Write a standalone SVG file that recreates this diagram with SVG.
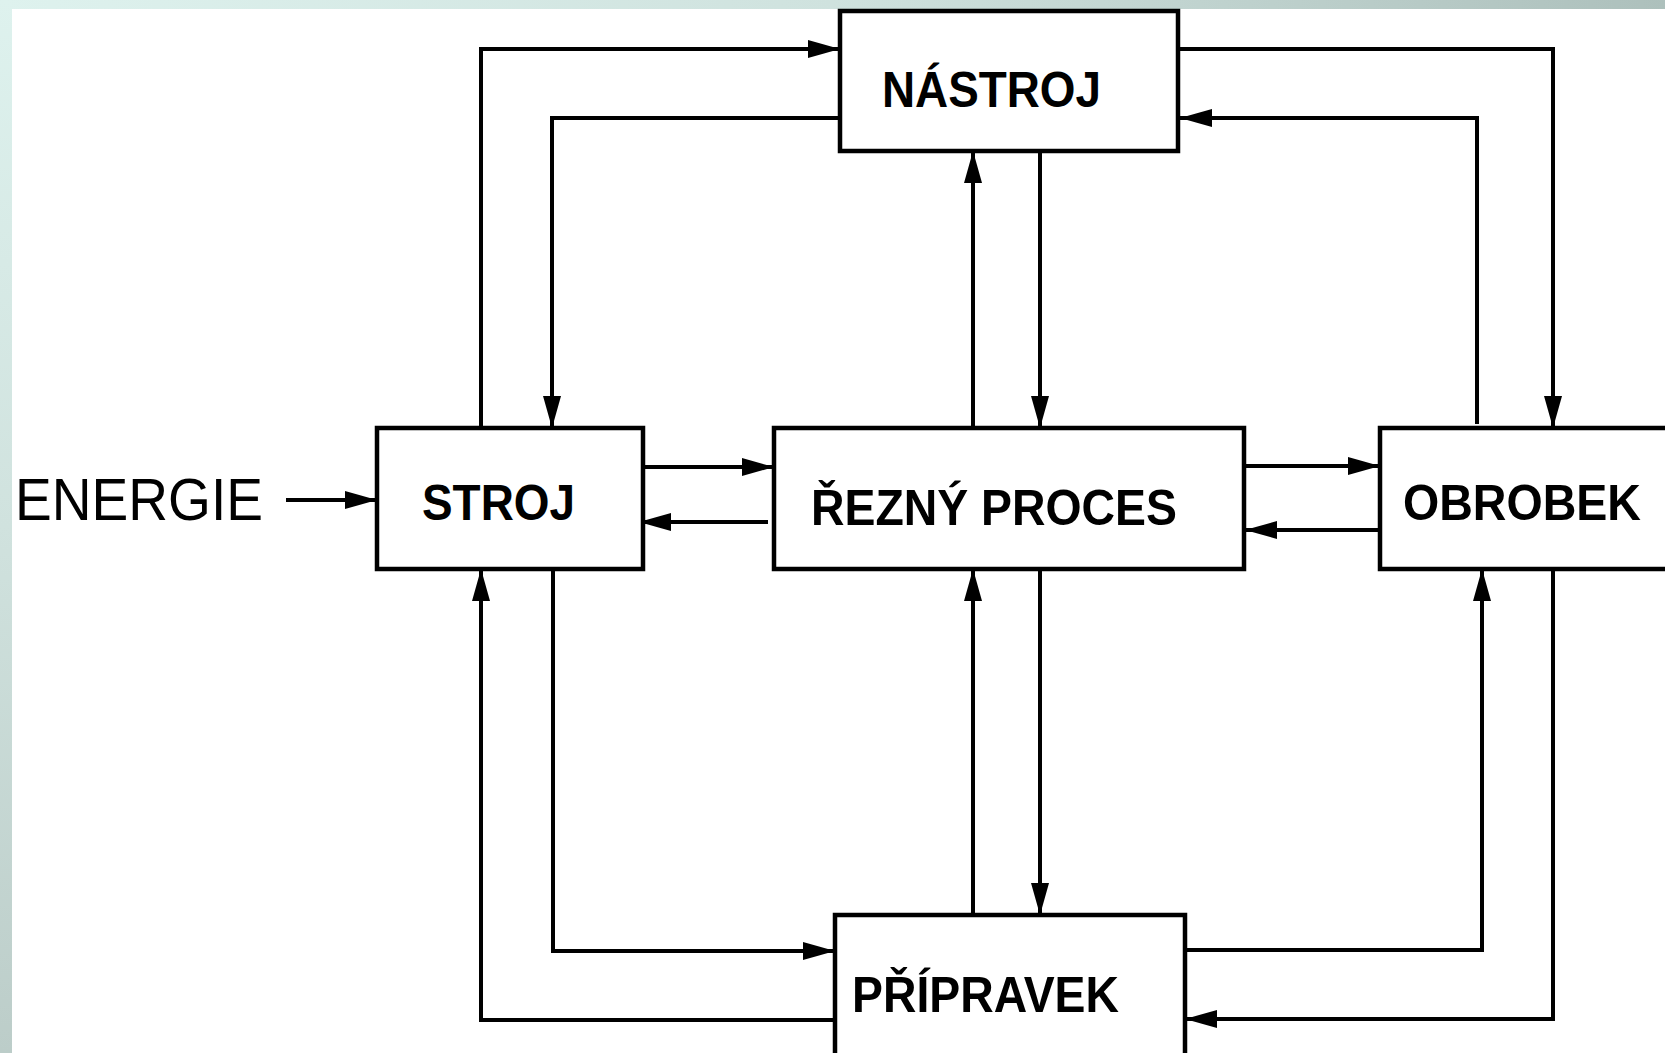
<svg xmlns="http://www.w3.org/2000/svg" width="1665" height="1053" viewBox="0 0 1665 1053">
  <defs>
    <linearGradient id="topg" x1="0" y1="0" x2="1" y2="0">
      <stop offset="0" stop-color="#def2ee"/>
      <stop offset="0.5" stop-color="#cfe2de"/>
      <stop offset="1" stop-color="#adc0bc"/>
    </linearGradient>
    <linearGradient id="leftg" x1="0" y1="0" x2="0" y2="1">
      <stop offset="0" stop-color="#def2ee"/>
      <stop offset="0.5" stop-color="#d0e2de"/>
      <stop offset="1" stop-color="#bccdc9"/>
    </linearGradient>
    <marker id="arr" viewBox="0 0 32 18" refX="32" refY="9" markerWidth="32" markerHeight="18" markerUnits="userSpaceOnUse" orient="auto">
      <path d="M0,0 L32,9 L0,18 z" fill="#000"/>
    </marker>
  </defs>
  <style>
    .box { fill: #fff; stroke: #000; stroke-width: 4.5; }
    .lbl { font-family: "Liberation Sans", Arial, sans-serif; font-weight: bold; font-size: 50px; fill: #000; }
    .conn path { fill: none; stroke: #000; stroke-width: 4; marker-end: url(#arr); }
  </style>
  <rect x="0" y="0" width="1665" height="1053" fill="#fff"/>
  <rect x="0" y="0" width="1665" height="9" fill="url(#topg)"/>
  <rect x="0" y="0" width="12" height="1053" fill="url(#leftg)"/>

  <g id="connectors" class="conn">
    <path d="M481,428 V49 H840"/>
    <path d="M840,118 H552 V428"/>
    <path d="M1178,49 H1553 V428"/>
    <path d="M1477,424 V118 H1180"/>
    <path d="M973,428 V151"/>
    <path d="M1040,151 V428"/>
    <path d="M286,500 H377"/>
    <path d="M643,467 H774"/>
    <path d="M768,522 H639"/>
    <path d="M1245,466 H1380"/>
    <path d="M1380,530 H1245"/>
    <path d="M837,1020 H481 V569"/>
    <path d="M553,569 V951 H835"/>
    <path d="M973,920 V569"/>
    <path d="M1040,569 V915"/>
    <path d="M1185,950 H1482 V569"/>
    <path d="M1553,569 V1019 H1185"/>
  </g>

  <g id="energie">
    <text x="15" y="520" font-family="Liberation Sans, Arial, sans-serif" font-size="60" textLength="248" lengthAdjust="spacingAndGlyphs">ENERGIE</text>
  </g>
  <g id="nastroj">
    <rect class="box" x="840" y="11" width="338" height="140"/>
    <text class="lbl" x="882" y="107" textLength="219" lengthAdjust="spacingAndGlyphs">NÁSTROJ</text>
  </g>
  <g id="stroj">
    <rect class="box" x="377" y="428" width="266" height="141"/>
    <text class="lbl" x="422" y="520" textLength="153" lengthAdjust="spacingAndGlyphs">STROJ</text>
  </g>
  <g id="rezny-proces">
    <rect class="box" x="774" y="428" width="470" height="141"/>
    <text class="lbl" x="811" y="525" textLength="366" lengthAdjust="spacingAndGlyphs">ŘEZNÝ PROCES</text>
  </g>
  <g id="obrobek">
    <rect class="box" x="1380" y="428" width="300" height="141"/>
    <text class="lbl" x="1403" y="520" textLength="238" lengthAdjust="spacingAndGlyphs">OBROBEK</text>
  </g>
  <g id="pripravek">
    <rect class="box" x="835" y="915" width="350" height="150"/>
    <text class="lbl" x="852" y="1012" textLength="267" lengthAdjust="spacingAndGlyphs">PŘÍPRAVEK</text>
  </g>
</svg>
